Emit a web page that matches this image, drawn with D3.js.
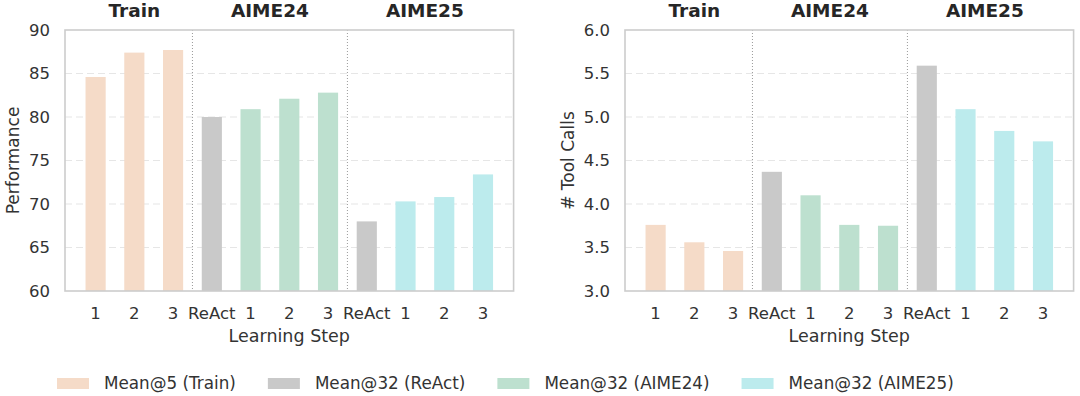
<!DOCTYPE html>
<html>
<head>
<meta charset="utf-8">
<script src="https://cdn.jsdelivr.net/npm/d3@7"></script>
<style>
  html, body { margin: 0; padding: 0; background: #fff; }
  svg { display: block; font-family: "DejaVu Sans", sans-serif; }
</style>
</head>
<body>
<div id="chart"></div>
<script>
(function(){
  // data
  const xLabels = ["1", "2", "3", "ReAct", "1", "2", "3", "ReAct", "1", "2", "3"];
  const groups = ["train", "train", "train", "react", "aime24", "aime24", "aime24", "react", "aime25", "aime25", "aime25"];
  const performance = [84.6, 87.4, 87.7, 80.0, 80.9, 82.1, 82.8, 68.0, 70.3, 70.8, 73.4];
  const toolCalls = [3.76, 3.56, 3.46, 4.37, 4.10, 3.76, 3.75, 5.59, 5.09, 4.84, 4.72];
  const sectionNames = ["Train", "AIME24", "AIME25"];
  const sectionCenters = [1, 4.5, 8.5];
  const separators = [2.5, 6.5];
  const perfTicks = [60, 65, 70, 75, 80, 85, 90];
  const toolTicks = [3.0, 3.5, 4.0, 4.5, 5.0, 5.5, 6.0];
  const legendKeys = ["train", "react", "aime24", "aime25"];
  const legendLabels = ["Mean@5 (Train)", "Mean@32 (ReAct)", "Mean@32 (AIME24)", "Mean@32 (AIME25)"];

  const colors = {
    train: "#f5dbc8",
    react: "#c9c9c9",
    aime24: "#bde0cf",
    aime25: "#bcebed"
  };

  const width = 1080;
  const height = 396;
  const top = 30, bottom = 291, plotW = 448.6;

  const svg = d3.select("#chart")
    .append("svg")
    .attr("width", width)
    .attr("height", height);

  function panel(left, values, domain, ticks, fmt, yLabel, labelX) {
    const g = svg.append("g");
    const x = d3.scaleLinear().domain([-0.79, 10.79]).range([left, left + plotW]);
    const y = d3.scaleLinear().domain(domain).range([bottom, top]);
    const bw = x(0.52) - x(0);

    // grid
    g.append("g")
      .selectAll("line")
      .data(ticks.slice(1, -1))
      .enter().append("line")
      .attr("x1", left).attr("x2", left + plotW)
      .attr("y1", d => y(d)).attr("y2", d => y(d))
      .attr("stroke", "#e6e6e6")
      .attr("stroke-width", 1.2)
      .attr("stroke-dasharray", "7,4");

    // bars
    g.append("g")
      .selectAll("rect")
      .data(values)
      .enter().append("rect")
      .attr("x", (d, i) => x(i) - bw / 2)
      .attr("width", bw)
      .attr("y", d => y(d))
      .attr("height", d => y(domain[0]) - y(d))
      .attr("fill", (d, i) => colors[groups[i]]);

    // separators
    g.append("g")
      .selectAll("line")
      .data(separators)
      .enter().append("line")
      .attr("x1", d => x(d)).attr("x2", d => x(d))
      .attr("y1", top).attr("y2", bottom)
      .attr("stroke", "#9a9a9a")
      .attr("stroke-width", 1)
      .attr("stroke-dasharray", "1,2");

    // frame
    g.append("rect")
      .attr("x", left).attr("y", top)
      .attr("width", plotW).attr("height", bottom - top)
      .attr("fill", "none")
      .attr("stroke", "#cccccc")
      .attr("stroke-width", 1.6);

    // y ticks
    g.append("g")
      .selectAll("text")
      .data(ticks)
      .enter().append("text")
      .attr("x", left - 15)
      .attr("y", d => y(d))
      .attr("dy", "0.36em")
      .attr("text-anchor", "end")
      .attr("font-size", 16.5)
      .attr("fill", "#333")
      .text(fmt);

    // x ticks
    g.append("g")
      .selectAll("text")
      .data(xLabels)
      .enter().append("text")
      .attr("x", (d, i) => x(i))
      .attr("y", bottom + 28)
      .attr("text-anchor", "middle")
      .attr("font-size", 16.5)
      .attr("fill", "#333")
      .text(d => d);

    // section titles
    g.append("g")
      .selectAll("text")
      .data(sectionNames)
      .enter().append("text")
      .attr("x", (d, i) => x(sectionCenters[i]))
      .attr("y", 17)
      .attr("text-anchor", "middle")
      .attr("font-size", 18.5)
      .attr("font-weight", "bold")
      .attr("fill", "#262626")
      .text(d => d);

    g.append("text")
      .attr("x", left + plotW / 2)
      .attr("y", 342)
      .attr("text-anchor", "middle")
      .attr("font-size", 17.5)
      .attr("fill", "#333")
      .text("Learning Step");

    g.append("text")
      .attr("transform", `translate(${labelX},${(top + bottom) / 2}) rotate(-90)`)
      .attr("text-anchor", "middle")
      .attr("font-size", 17)
      .attr("fill", "#333")
      .text(yLabel);
  }

  panel(65, performance, [60, 90], perfTicks, d => d3.format("d")(d), "Performance", 19);
  panel(625, toolCalls, [3, 6], toolTicks, d => d3.format(".1f")(d), "# Tool Calls", 574);

  // legend
  const legend = svg.append("g");
  let lx = 57;
  legendKeys.forEach((k, i) => {
    legend.append("rect")
      .attr("x", lx).attr("y", 378)
      .attr("width", 32).attr("height", 11)
      .attr("fill", colors[k]);
    const t = legend.append("text")
      .attr("x", lx + 47)
      .attr("y", 389)
      .attr("font-size", 16.8)
      .attr("fill", "#333")
      .text(legendLabels[i]);
    lx += 47 + t.node().getComputedTextLength() + 32;
  });
})();
</script>
</body>
</html>
